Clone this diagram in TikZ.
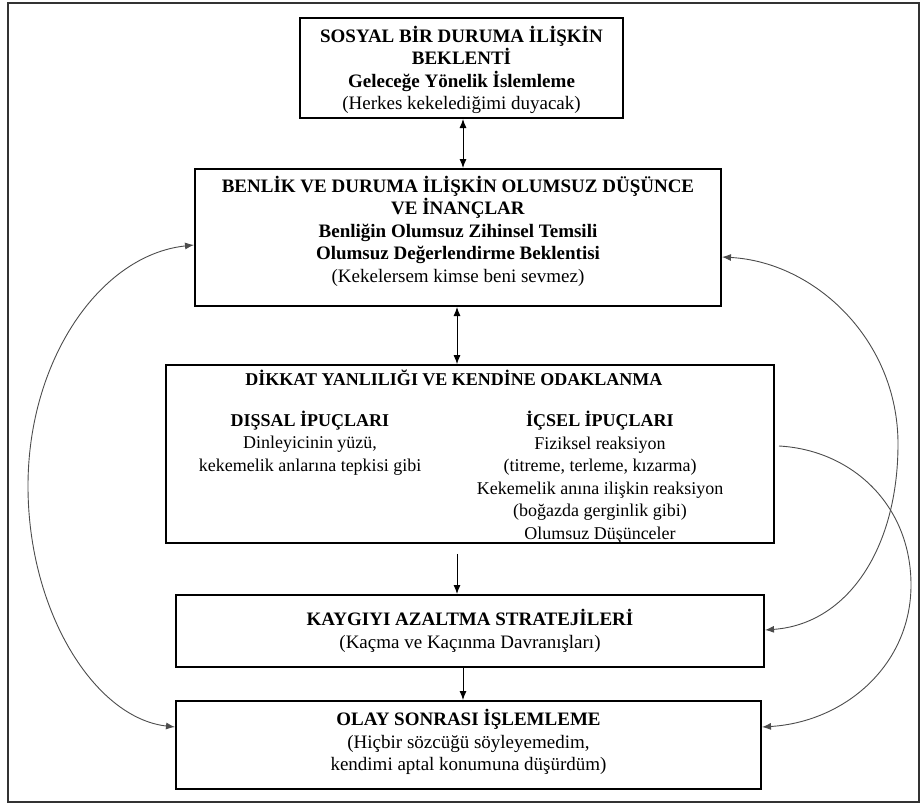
\documentclass[tikz,border=0pt]{standalone}
\usepackage{fontspec}
\setmainfont{Liberation Serif}
\usetikzlibrary{arrows.meta}
\tikzset{
  box/.style={draw=black, line width=2pt, inner sep=0pt},
  txt/.style={align=center, inner sep=0pt, font=\fontsize{19}{22.5}\selectfont},
  txtsm/.style={align=center, inner sep=0pt, font=\fontsize{18}{22.5}\selectfont},
  tip/.tip={Latex[length=9pt,width=7pt]},
  conn/.style={line width=0.9pt, -tip},
  dconn/.style={line width=0.9pt, tip-tip},
  curve/.style={draw=black!70, line width=0.9pt},
  frame/.style={draw=black!80, line width=1.5pt},
}
\begin{document}
\begin{tikzpicture}[x=1pt,y=-1pt]
\useasboundingbox (0,0) rectangle (924,808);
\draw[frame] (8,3) rectangle (919,802);

% boxes
\node[box, minimum width=323pt, minimum height=100pt] (b1) at (461.5,68) {};
\node[box, minimum width=526pt, minimum height=137pt] (b2) at (458,237.5) {};
\node[box, minimum width=608pt, minimum height=178pt, line width=1.7pt] (b3) at (470,454) {};
\node[box, minimum width=588pt, minimum height=72pt] (b4) at (470,631) {};
\node[box, minimum width=585pt, minimum height=88pt] (b5) at (468.5,745) {};

% texts
\node[txt] (t1) at (461.5,70) {\textbf{SOSYAL BİR DURUMA İLİŞKİN}\\\textbf{BEKLENTİ}\\\textbf{Geleceğe Yönelik İslemleme}\\(Herkes kekelediğimi duyacak)};
\node[txt] (t2) at (458,231) {\textbf{BENLİK VE DURUMA İLİŞKİN OLUMSUZ DÜŞÜNCE}\\\textbf{VE İNANÇLAR}\\\textbf{Benliğin Olumsuz Zihinsel Temsili}\\\textbf{Olumsuz Değerlendirme Beklentisi}\\(Kekelersem kimse beni sevmez)};
\node[txtsm] (t3) at (454,378) {\textbf{DİKKAT YANLILIĞI VE KENDİNE ODAKLANMA}};
\node[txtsm] (t3l) at (310,443) {\textbf{DIŞSAL İPUÇLARI}\\Dinleyicinin yüzü,\\kekemelik anlarına tepkisi gibi};
\node[txtsm] (t3r) at (600,477) {\textbf{İÇSEL İPUÇLARI}\\Fiziksel reaksiyon\\(titreme, terleme, kızarma)\\Kekemelik anına ilişkin reaksiyon\\(boğazda gerginlik gibi)\\Olumsuz Düşünceler};
\node[txt] (t4) at (470,631) {\textbf{KAYGIYI AZALTMA STRATEJİLERİ}\\(Kaçma ve Kaçınma Davranışları)};
\node[txt] (t5) at (468.5,742) {\textbf{OLAY SONRASI İŞLEMLEME}\\(Hiçbir sözcüğü söyleyemedim,\\kendimi aptal konumuna düşürdüm)};

% straight connectors
\draw[dconn] ([xshift=1.5pt]b1.south) -- ([xshift=1.5pt]b1.south |- b2.north);
\draw[dconn] ([xshift=-1pt]b2.south) -- ([xshift=-1pt]b2.south |- b3.north);
\draw[conn] ([xshift=-13pt,yshift=-10pt]b3.south) -- ([xshift=-13pt]b3.south |- b4.north);
\draw[conn] ([xshift=-7pt]b4.south) -- ([xshift=-7pt]b4.south |- b5.north);

% curved connectors
\coordinate (lp) at (28,486);
\coordinate (rp1) at (898,444);
\coordinate (rp2) at (911,585);
\coordinate (cs) at (779,446);
\draw[curve, tip-tip] ([yshift=-7.5pt]b2.west) .. controls (100,255) and (28,360) .. (lp)
  .. controls (28,612) and (95,718) .. ([yshift=18pt]b5.west);
\draw[curve, tip-tip] ([yshift=-19.5pt]b2.east) .. controls (815,262) and (898,340) .. (rp1)
  .. controls (898,548) and (848,624) .. ([yshift=1pt]b4.east);
\draw[curve, -tip] (cs) .. controls (852,450) and (911,505) .. (rp2)
  .. controls (911,665) and (845,722) .. ([yshift=18pt]b5.east);
\end{tikzpicture}
\end{document}
